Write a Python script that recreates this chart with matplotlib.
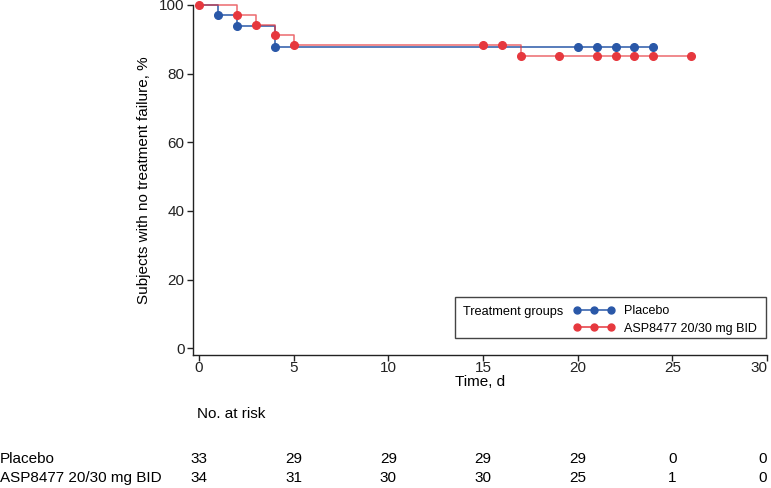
import matplotlib
matplotlib.use("Agg")
import matplotlib.pyplot as plt
from matplotlib.lines import Line2D
from matplotlib.patches import Rectangle

plt.rcParams['font.family'] = ['Liberation Sans', 'DejaVu Sans']

# Kaplan-Meier steps (time in days, % without treatment failure)
pbo_t = [0, 1, 2, 4, 24]
pbo_s = [100, 96.97, 93.94, 87.88, 87.88]
pbo_mark_t = [1, 2, 4, 20, 21, 22, 23, 24]
pbo_mark_s = [96.97, 93.94, 87.88, 87.88, 87.88, 87.88, 87.88, 87.88]

asp_t = [0, 2, 3, 4, 5, 17, 26]
asp_s = [100, 97.06, 94.12, 91.18, 88.24, 85.0, 85.0]
asp_mark_t = [0, 2, 3, 4, 5, 15, 16, 17, 19, 21, 22, 23, 24, 26]
asp_mark_s = [100, 97.06, 94.12, 91.18, 88.24, 88.24, 88.24, 85.0, 85.0, 85.0, 85.0, 85.0, 85.0, 85.0]

risk_times = [0, 5, 10, 15, 20, 25, 30]
pbo_risk = [33, 29, 29, 29, 29, 0, 0]
asp_risk = [34, 31, 30, 30, 25, 1, 0]

group_names = ["Placebo", "ASP8477 20/30 mg BID"]

BLUE = "#2a58a8"
RED = "#e6383e"

fig = plt.figure(figsize=(7.71, 4.88), dpi=100)
ax = fig.add_axes([193 / 771, 1 - 355 / 488, 574 / 771, 350 / 488])

ax.step(pbo_t, pbo_s, where="post", color=BLUE, lw=1.1, clip_on=False)
ax.plot(pbo_mark_t, pbo_mark_s, "o", color=BLUE, ms=5.5, clip_on=False)
ax.step(asp_t, asp_s, where="post", color=RED, lw=1.1, alpha=0.75, clip_on=False)
ax.plot(asp_mark_t, asp_mark_s, "o", color=RED, ms=5.5, clip_on=False)

ax.set_xlim(-0.32, 30)
ax.set_ylim(-2, 100)
ax.set_xticks(risk_times)
ax.set_yticks([0, 20, 40, 60, 80, 100])
ax.spines["top"].set_visible(False)
ax.spines["right"].set_visible(False)
for s in ("left", "bottom"):
    ax.spines[s].set_linewidth(1.0)
    ax.spines[s].set_color("#222222")
ax.tick_params(direction="out", length=4, width=1, labelsize=11, colors="#222222", pad=2)
ax.tick_params(axis="x", pad=0.5)
# last x tick label sits at the right edge of the figure
ax.get_xticklabels()[-1].set_horizontalalignment("right")
ax.set_xlabel("Time, d", fontsize=11, labelpad=0)
ax.set_ylabel("Subjects with no treatment failure, %", fontsize=11, labelpad=6)

# legend box
fig.patches.append(Rectangle((455 / 771, 1 - 338 / 488), 311 / 771, 41 / 488,
                             transform=fig.transFigure, fill=False,
                             edgecolor="#444444", lw=1.0))
fig.text(463 / 771, 1 - 312 / 488, "Treatment groups", fontsize=9.2, va="center", ha="left")
handles = [Line2D([], [], color=BLUE, marker="o", ms=5, lw=1.1),
           Line2D([], [], color=RED, marker="o", ms=5, lw=1.1)]
fig.legend(handles, group_names, loc="upper left", bbox_to_anchor=(573 / 771, 1 - 305 / 488),
           frameon=False, numpoints=3, handlelength=3.35, handletextpad=0.7,
           fontsize=9.0, labelspacing=0.45, borderpad=0.0, borderaxespad=0.0)

# number at risk table
fig.text(197 / 771, 1 - 414 / 488, "No. at risk", fontsize=11, va="center", ha="left")
rows = [(pbo_risk, 1 - 459 / 488), (asp_risk, 1 - 478 / 488)]
for name, (vals, yy) in zip(group_names, rows):
    fig.text(0.0, yy, name, fontsize=11, va="center", ha="left")
    for t, v in zip(risk_times, vals):
        xx = fig.transFigure.inverted().transform(ax.transData.transform((t, 0)))[0]
        fig.text(min(xx, 763 / 771), yy, str(v), fontsize=11, va="center", ha="center")

fig.savefig("out.png", dpi=100)
